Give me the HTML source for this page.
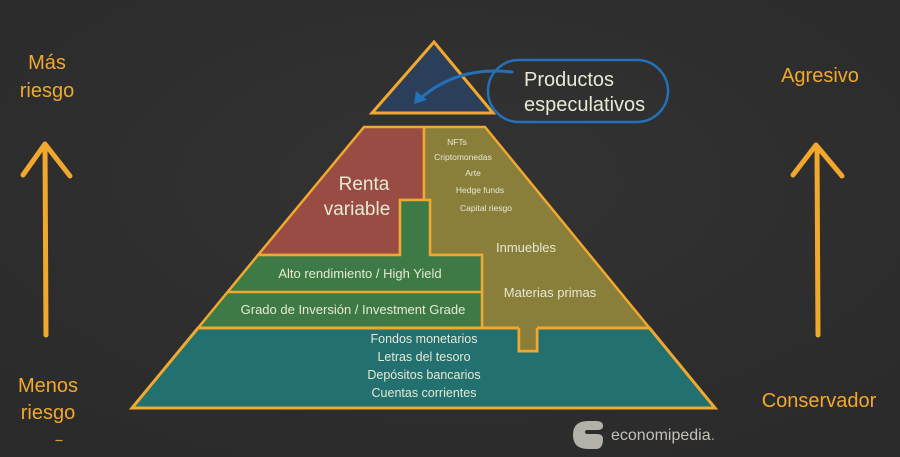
<!DOCTYPE html>
<html>
<head>
<meta charset="utf-8">
<style>
html,body{margin:0;padding:0;background:#2e2e2e;}
svg{display:block;}
text{font-family:"Liberation Sans",Arial,sans-serif;}
</style>
</head>
<body>
<svg width="900" height="457" viewBox="0 0 900 457" xmlns="http://www.w3.org/2000/svg">
  <defs>
    <radialGradient id="bg" cx="50%" cy="40%" r="75%">
      <stop offset="0" stop-color="#333333"/>
      <stop offset="1" stop-color="#2a2a2a"/>
    </radialGradient>
  </defs>
  <rect width="900" height="457" fill="url(#bg)"/>

  <!-- Top triangle -->
  <polygon points="434,42 372,113 493,113" fill="#2b3e5a" stroke="#f0a82e" stroke-width="3" stroke-linejoin="miter"/>

  <!-- Bubble -->
  <rect x="488" y="60" width="180" height="62" rx="31" ry="31" fill="none" stroke="#2371b8" stroke-width="2.5"/>
  <text x="524" y="86" font-size="20" fill="#e6e9d4">Productos</text>
  <text x="524" y="111" font-size="20" fill="#e6e9d4">especulativos</text>

  <!-- Curved arrow -->
  <path d="M512,72 Q458,66 421,98" fill="none" stroke="#2371b8" stroke-width="3" stroke-linecap="round"/>
  <polygon points="414,104 416,91 427,100" fill="#2371b8"/>

  <!-- Red -->
  <polygon points="364,127 424,127 424,200 400,200 400,255 258,255" fill="#994c43" stroke="#f0a82e" stroke-width="2.5" stroke-linejoin="miter"/>
  <!-- Olive -->
  <polygon points="424,127 485,127 649.5,328 537,328 537,351 519,351 519,328 482,328 482,255 430,255 430,200 424,200" fill="#8a7e3b" stroke="#f0a82e" stroke-width="2.5" stroke-linejoin="miter"/>
  <!-- Green -->
  <polygon points="400,200 430,200 430,255 482,255 482,328 198,328 258,255 400,255" fill="#3e7a46" stroke="#f0a82e" stroke-width="2.5" stroke-linejoin="miter"/>
  <line x1="227.8" y1="292" x2="482" y2="292" stroke="#f0a82e" stroke-width="2.5"/>
  <!-- Teal -->
  <polygon points="198,328 519,328 519,351 537,351 537,328 649.5,328 715,408 132,408" fill="#22706f" stroke="#f0a82e" stroke-width="3" stroke-linejoin="miter"/>
  <polygon points="519,326 537,326 537,351 519,351" fill="#8a7e3b"/>
  <polyline points="519,328 519,351 537,351 537,328" fill="none" stroke="#f0a82e" stroke-width="2.5"/>

  <!-- Pyramid texts -->
  <g fill="#e6e9d4" text-anchor="middle">
    <text x="364" y="190" font-size="19">Renta</text>
    <text x="357" y="215" font-size="19">variable</text>

    <text x="457" y="145" font-size="8.5">NFTs</text>
    <text x="463" y="160" font-size="8.5">Criptomonedas</text>
    <text x="473" y="176" font-size="8.5">Arte</text>
    <text x="480" y="193" font-size="8.5">Hedge funds</text>
    <text x="486" y="211" font-size="8.5">Capital riesgo</text>

    <text x="526" y="252" font-size="13">Inmuebles</text>
    <text x="550" y="297" font-size="13">Materias primas</text>

    <text x="360" y="278" font-size="13">Alto rendimiento / High Yield</text>
    <text x="353" y="314" font-size="13">Grado de Inversión / Investment Grade</text>

    <text x="424" y="343" font-size="12.5">Fondos monetarios</text>
    <text x="424" y="361" font-size="12.5">Letras del tesoro</text>
    <text x="424" y="379" font-size="12.5">Depósitos bancarios</text>
    <text x="424" y="397" font-size="12.5">Cuentas corrientes</text>
  </g>

  <!-- Left side -->
  <g fill="#f0a82e" text-anchor="middle" font-size="20">
    <text x="47" y="69">Más</text>
    <text x="47" y="97">riesgo</text>
    <text x="48" y="392">Menos</text>
    <text x="48" y="419">riesgo</text>
  </g>
  <g stroke="#f0a82e" stroke-width="5" stroke-linecap="round" stroke-linejoin="round" fill="none">
    <line x1="45" y1="145" x2="46" y2="335"/>
    <polyline points="23,175 45,144 70,176"/>
  </g>
  <line x1="56" y1="440.5" x2="62" y2="440.5" stroke="#d89a30" stroke-width="1.2" stroke-linecap="round"/>

  <!-- Right side -->
  <g fill="#f0a82e" text-anchor="middle" font-size="20">
    <text x="820" y="82">Agresivo</text>
    <text x="819" y="407">Conservador</text>
  </g>
  <g stroke="#f0a82e" stroke-width="5" stroke-linecap="round" stroke-linejoin="round" fill="none">
    <line x1="817" y1="147" x2="818" y2="335"/>
    <polyline points="793,175 816,145 842,176"/>
  </g>

  <!-- Logo -->
  <g fill="#b4b1a8">
    <path d="M588,421 L596,421 Q603,421 603,426 Q603,430 597,430 L587,430 Q585,430 585,432 Q585,434 587,434 L597,434 Q603,434 603,439 Q603,449 596,449 L588,449 Q573,449 573,435 Q573,421 588,421 Z"/>
  </g>
  <text x="611" y="440" font-size="16" fill="#c4c1b8">economipedia<tspan fill="#9a978f">.</tspan></text>
</svg>
</body>
</html>
